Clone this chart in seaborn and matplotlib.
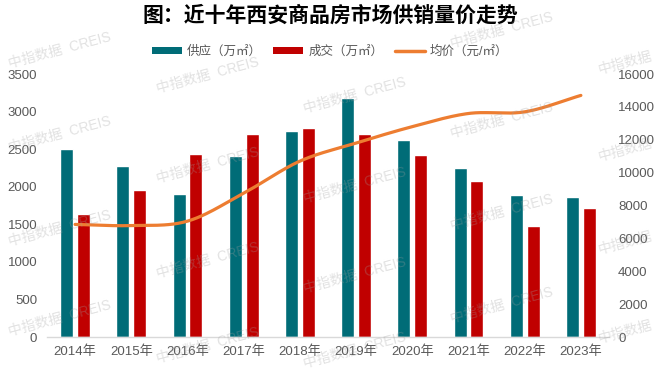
#!/usr/bin/env python3
"""Xi'an commercial housing supply / sales / average price, 2014-2023."""

import matplotlib

matplotlib.use("Agg")
import matplotlib.pyplot as plt
import numpy as np
import pandas as pd
import seaborn as sns
from matplotlib.lines import Line2D
from matplotlib.patches import Patch

# Values
years = ["2014年", "2015年", "2016年", "2017年", "2018年",
         "2019年", "2020年", "2021年", "2022年", "2023年"]
supply = [2505, 2270, 1897, 2413, 2747, 3183, 2627, 2253, 1893, 1866]
sales = [1639, 1955, 2436, 2707, 2783, 2703, 2427, 2080, 1483, 1714]
price = [6850, 6780, 7050, 8750, 10700, 11800, 12800, 13600, 13700, 14700]

supply_label = "供应（万㎡）"
sales_label = "成交（万㎡）"
price_label = "均价（元/㎡）"
title = "图：近十年西安商品房市场供销量价走势"
watermark = "中指数据  CREIS"
watermark_short = "中指数据"

TEAL = "#006C77"
RED = "#C00000"
ORANGE = "#ED7D31"
GRAY = "#595959"

sns.set_theme(style="white")
plt.rcParams["font.family"] = ["Liberation Sans", "Noto Sans CJK SC", "DejaVu Sans"]

df = pd.DataFrame({"year": years, supply_label: supply, sales_label: sales})
df_long = df.melt(id_vars="year", var_name="series", value_name="value")

fig = plt.figure(figsize=(6.6, 3.73), dpi=100)
ax = fig.add_axes([0.0712, 0.0965, 0.8515, 0.705])

sns.barplot(
    data=df_long, x="year", y="value", hue="series",
    palette=[TEAL, RED], width=0.6, gap=0.23, ax=ax,
    saturation=1, legend=False,
)
ax.set_xlim(-0.5, len(years) - 0.5)
ax.set_ylim(0, 3500)
ax.set_yticks(np.arange(0, 3501, 500))
ax.set_xlabel("")
ax.set_ylabel("")
for side in ["top", "right", "left"]:
    ax.spines[side].set_visible(False)
ax.spines["bottom"].set_color("#D9D9D9")
ax.spines["bottom"].set_linewidth(1.0)
ax.tick_params(axis="y", length=0, pad=7, labelsize=9.5, labelcolor=GRAY)
ax.tick_params(axis="x", length=0, pad=6, labelsize=9.5, labelcolor=GRAY)

# price line on a second axis, smoothed like the spreadsheet original
ax2 = ax.twinx()
ax2.set_ylim(0, 16000)
ax2.set_yticks(np.arange(0, 16001, 2000))
for side in ["top", "right", "left", "bottom"]:
    ax2.spines[side].set_visible(False)
ax2.tick_params(axis="y", length=0, pad=6.5, labelsize=9.5, labelcolor=GRAY)
ax2.grid(False)

xs = np.arange(len(price), dtype=float)
ys = np.asarray(price, dtype=float)
# Catmull-Rom style tangents for a smooth curve through the points
m = np.gradient(ys)
curve_x, curve_y = [], []
for i in range(len(xs) - 1):
    t = np.linspace(0, 1, 25)
    h00 = 2 * t**3 - 3 * t**2 + 1
    h10 = t**3 - 2 * t**2 + t
    h01 = -2 * t**3 + 3 * t**2
    h11 = t**3 - t**2
    curve_x.extend(xs[i] + t)
    curve_y.extend(h00 * ys[i] + h10 * m[i] + h01 * ys[i + 1] + h11 * m[i + 1])
ax2.plot(curve_x, curve_y, color=ORANGE, linewidth=2.3, solid_capstyle="round")

fig.text(0.5, 1 - 15 / 373, title, ha="center", va="center",
         fontsize=15, fontweight="bold", color="#000000")

handles = [
    Patch(facecolor=TEAL, edgecolor="none", label=supply_label),
    Patch(facecolor=RED, edgecolor="none", label=sales_label),
    Line2D([0], [0], color=ORANGE, linewidth=2.5, label=price_label),
]
fig.legend(
    handles=handles, loc="center", bbox_to_anchor=(0.5, 1 - 52 / 373),
    ncol=3, frameon=False, fontsize=9, labelcolor=GRAY,
    handlelength=2.4, handleheight=0.5, handletextpad=0.4, columnspacing=0.9,
)

# faint watermarks
marks = [
    (60, 50), (60, 134), (60, 228), (60, 318),
    (208, 75), (208, 165), (208, 260), (208, 345),
    (355, 95), (355, 185), (355, 275), (355, 350),
    (502, 30), (502, 120), (502, 212), (502, 305),
]
for px, py in marks:
    fig.text(px / 660, 1 - py / 373, watermark, ha="center", va="center",
             rotation=15, fontsize=10, color="#9E9E9E", alpha=0.3, zorder=10)
for py in [63, 150, 243, 332]:
    fig.text(625 / 660, 1 - py / 373, watermark_short, ha="center", va="center",
             rotation=15, fontsize=10, color="#9E9E9E", alpha=0.3, zorder=10)

fig.savefig("out.png", dpi=100, facecolor="white")
